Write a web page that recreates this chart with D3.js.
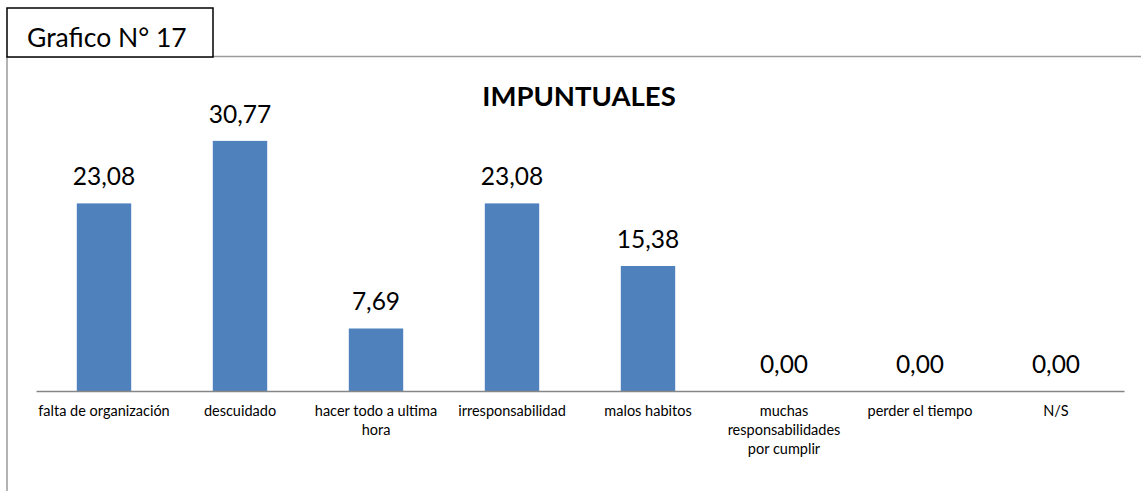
<!DOCTYPE html>
<html>
<head>
<meta charset="utf-8">
<script src="https://cdn.jsdelivr.net/npm/d3@7"></script>
<style>
  body { margin: 0; background: #fff; }
  text { font-family: Lato, "Open Sans", sans-serif; fill: #000; }
</style>
</head>
<body>
<div id="app"></div>
<script>
const categories = ["falta de organización", "descuidado", "hacer todo a ultima hora", "irresponsabilidad",
  "malos habitos", "muchas responsabilidades por cumplir", "perder el tiempo", "N/S"];
const values = [23.08, 30.77, 7.69, 23.08, 15.38, 0, 0, 0];
// tick labels, split where the original chart breaks them
const tickLabels = ["falta de organización", "descuidado", "hacer todo a ultima\nhora", "irresponsabilidad",
  "malos habitos", "muchas\nresponsabilidades\npor cumplir", "perder el tiempo", "N/S"];
const chartTitle = "IMPUNTUALES";
const boxLabel = "Grafico N° 17";

const width = 1141, height = 491;
const fmt = v => v.toFixed(2).replace(".", ",");

const svg = d3.select("#app").append("svg")
  .attr("width", width)
  .attr("height", height);

// frame: top and left grey border
svg.append("path")
  .attr("d", `M7,${height}V56.5H${width}`)
  .attr("fill", "none")
  .attr("stroke", "#9a9a9a")
  .attr("stroke-width", 1.5);

// caption box
svg.append("rect")
  .attr("x", 7).attr("y", 8)
  .attr("width", 206).attr("height", 49)
  .attr("fill", "#fff")
  .attr("stroke", "#000")
  .attr("stroke-width", 1.5);
svg.append("text")
  .attr("x", 27).attr("y", 47)
  .style("font-size", "26.5px")
  .text(boxLabel);

const x = d3.scaleBand()
  .domain(categories)
  .range([36, 1124])
  .paddingInner(0.6)
  .paddingOuter(0.3);

const y = d3.scaleLinear()
  .domain([0, 35])
  .range([391, 106.5]);

svg.append("text")
  .attr("x", 579).attr("y", 106)
  .attr("text-anchor", "middle")
  .style("font-size", "27.5px")
  .style("font-weight", "bold")
  .text(chartTitle);

svg.append("g")
  .selectAll("rect")
  .data(values)
  .join("rect")
  .attr("x", (d, i) => x(categories[i]))
  .attr("y", d => y(d))
  .attr("width", x.bandwidth())
  .attr("height", d => y(0) - y(d))
  .attr("fill", "#4F81BD");

svg.append("g")
  .selectAll("text")
  .data(values)
  .join("text")
  .attr("x", (d, i) => x(categories[i]) + x.bandwidth() / 2)
  .attr("y", d => y(d) - 18)
  .attr("text-anchor", "middle")
  .style("font-size", "24.5px")
  .text(d => fmt(d));

const axis = svg.append("g")
  .attr("transform", `translate(0,${y(0)})`)
  .call(d3.axisBottom(x).tickSize(0).tickSizeOuter(0).tickFormat(""));
axis.select(".domain").attr("stroke", "#868686").attr("stroke-width", 1.5);

axis.selectAll(".tick").each(function (d, i) {
  const t = d3.select(this).append("text")
    .attr("text-anchor", "middle")
    .style("font-size", "14.5px");
  tickLabels[i].split("\n").forEach((line, k) => {
    t.append("tspan").attr("x", 0).attr("y", 25 + k * 19).text(line);
  });
});
</script>
</body>
</html>
